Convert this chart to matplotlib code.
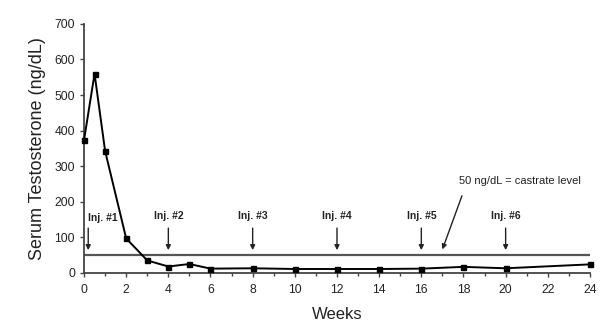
import numpy as np
import matplotlib.pyplot as plt
from matplotlib.ticker import MultipleLocator

plt.rcParams['font.family'] = ['Liberation Sans', 'DejaVu Sans']

weeks = [0, 0.5, 1, 2, 3, 4, 5, 6, 8, 10, 12, 14, 16, 18, 20, 24]
testosterone = [373, 560, 343, 97, 35, 18, 25, 12, 13, 11, 11, 11, 12, 17, 13, 24]

inj_weeks = [0.2, 4, 8, 12, 16, 20]
inj_labels = ['Inj. #1', 'Inj. #2', 'Inj. #3', 'Inj. #4', 'Inj. #5', 'Inj. #6']
castrate_level = 50

fig = plt.figure(figsize=(6.15, 3.3), dpi=100)
ax = fig.add_axes([0.1366, 0.173, 0.8227, 0.7545])

ax.axhline(castrate_level, color='#555555', lw=1.6, zorder=1)
ax.plot(weeks, testosterone, color='black', lw=1.4, marker='s', ms=3.6, zorder=3, clip_on=False)

for i, (w, lab) in enumerate(zip(inj_weeks, inj_labels)):
    if i == 0:
        tx, ty = 0.9, 154
    else:
        tx, ty = w, 160
    ax.text(tx, ty, lab, ha='center', va='center', fontsize=7.5, fontweight='bold', color='#222222')
    ax.annotate('', xy=(w, 64), xytext=(w, 126),
                arrowprops=dict(arrowstyle='-|>', color='#222222', lw=1.0,
                                mutation_scale=7, shrinkA=0, shrinkB=0))

ax.annotate('50 ng/dL = castrate level', xy=(17.0, 66), xytext=(17.8, 257),
            fontsize=8, color='#222222', ha='left', va='center',
            arrowprops=dict(arrowstyle='-|>', color='#222222', lw=1.0,
                            mutation_scale=7, shrinkA=5, shrinkB=0,
                            relpos=(0.05, 0.0)))

ax.set_xlim(0, 24)
ax.set_ylim(0, 700)
ax.xaxis.set_major_locator(MultipleLocator(2))
ax.xaxis.set_minor_locator(MultipleLocator(1))
ax.yaxis.set_major_locator(MultipleLocator(100))

for s in ['top', 'right']:
    ax.spines[s].set_visible(False)
for s in ['left', 'bottom']:
    ax.spines[s].set_color('#444444')
    ax.spines[s].set_linewidth(1.3)

ax.tick_params(axis='both', colors='#444444', labelcolor='#222222', labelsize=8.7,
               length=3, width=1.0, direction='out')
ax.tick_params(axis='x', which='minor', length=2, width=1.0, colors='#444444')
ax.tick_params(axis='x', pad=5)

ax.set_xlabel('Weeks', fontsize=12, color='#222222', labelpad=8)
ax.set_ylabel('Serum Testosterone (ng/dL)', fontsize=13, color='#222222', labelpad=6)

fig.savefig('out.png', dpi=100)
